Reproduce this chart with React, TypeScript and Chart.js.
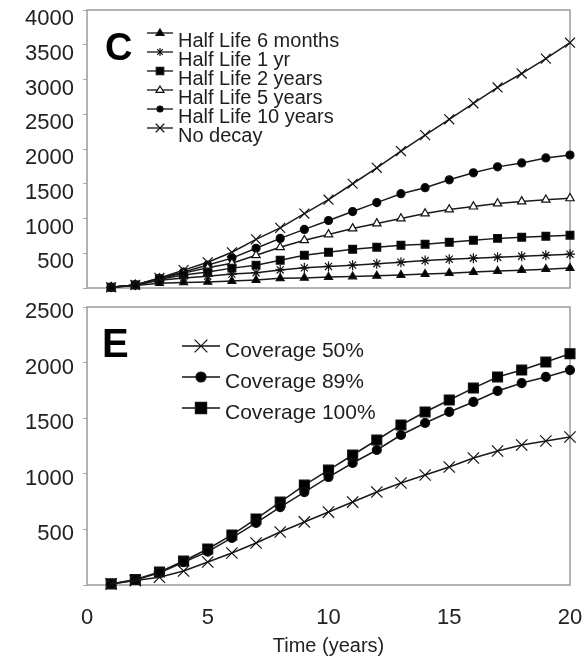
import React, { useEffect, useRef } from "react";
import { Chart, registerables } from "chart.js";

Chart.register(...registerables);

// ---------- data ----------
const years = [1, 2, 3, 4, 5, 6, 7, 8, 9, 10, 11, 12, 13, 14, 15, 16, 17, 18, 19, 20];

const halfLife6m = [8, 35, 70, 80, 88, 100, 115, 140, 145, 157, 165, 175, 186, 200, 214, 229, 243, 257, 271, 286];
const halfLife1y = [10, 40, 110, 143, 170, 200, 220, 260, 290, 310, 329, 350, 371, 395, 414, 429, 443, 457, 471, 486];
const halfLife2y = [10, 42, 125, 186, 229, 286, 329, 400, 471, 514, 557, 586, 614, 629, 657, 686, 714, 730, 745, 760];
const halfLife5y = [10, 45, 135, 214, 290, 357, 471, 586, 686, 771, 857, 929, 1000, 1071, 1129, 1171, 1215, 1245, 1270, 1290];
const halfLife10y = [10, 45, 140, 230, 330, 430, 571, 714, 843, 971, 1100, 1229, 1357, 1443, 1557, 1657, 1743, 1800, 1871, 1914];
const noDecay = [10, 45, 145, 257, 370, 514, 700, 865, 1071, 1271, 1500, 1729, 1971, 2200, 2428, 2657, 2886, 3086, 3300, 3530];

const coverage50 = [10, 40, 70, 126, 207, 288, 378, 477, 567, 656, 746, 836, 917, 989, 1061, 1142, 1205, 1259, 1295, 1331];
const coverage89 = [10, 45, 110, 205, 300, 423, 558, 701, 836, 971, 1097, 1214, 1349, 1457, 1556, 1646, 1745, 1816, 1871, 1933];
const coverage100 = [10, 50, 117, 216, 324, 450, 594, 746, 899, 1034, 1169, 1304, 1439, 1556, 1664, 1771, 1871, 1933, 2005, 2080];

const topLabels = ["Half Life 6 months", "Half Life 1 yr", "Half Life 2 years", "Half Life 5 years", "Half Life 10 years", "No decay"];
const bottomLabels = ["Coverage 50%", "Coverage 89%", "Coverage 100%"];
const xTitle = "Time (years)";
const topPanelLetter = "C";
const bottomPanelLetter = "E";

// ---------- helpers ----------
const FONT = "'Liberation Sans', Arial, sans-serif";
const INK = "#111";

type Mk = { style: string; fill: string; r: number; lr: number };

function drawMarker(ctx: CanvasRenderingContext2D, style: string, x: number, y: number, r: number, fill: string) {
  ctx.save();
  ctx.strokeStyle = INK;
  ctx.fillStyle = fill;
  ctx.lineWidth = 1.2;
  ctx.beginPath();
  if (style === "triangle") {
    ctx.moveTo(x, y - r);
    ctx.lineTo(x + r, y + r * 0.6);
    ctx.lineTo(x - r, y + r * 0.6);
    ctx.closePath();
    ctx.fill();
    ctx.stroke();
  } else if (style === "rect") {
    const s = r * 0.75;
    ctx.rect(x - s, y - s, 2 * s, 2 * s);
    ctx.fill();
    ctx.stroke();
  } else if (style === "circle") {
    ctx.arc(x, y, r, 0, Math.PI * 2);
    ctx.fill();
    ctx.stroke();
  } else if (style === "crossRot") {
    const d = r * 0.707;
    ctx.moveTo(x - d, y - d);
    ctx.lineTo(x + d, y + d);
    ctx.moveTo(x - d, y + d);
    ctx.lineTo(x + d, y - d);
    ctx.stroke();
  } else if (style === "star") {
    const d = r * 0.707;
    ctx.moveTo(x - d, y - d);
    ctx.lineTo(x + d, y + d);
    ctx.moveTo(x - d, y + d);
    ctx.lineTo(x + d, y - d);
    ctx.moveTo(x, y - r);
    ctx.lineTo(x, y + r);
    ctx.stroke();
  }
  ctx.restore();
}

function boxPlugin(id: string) {
  return {
    id,
    beforeDatasetsDraw(chart: any) {
      const { ctx, chartArea } = chart;
      ctx.save();
      ctx.strokeStyle = "#9a9a9a";
      ctx.lineWidth = 1.5;
      ctx.strokeRect(chartArea.left, chartArea.top, chartArea.right - chartArea.left, chartArea.bottom - chartArea.top);
      ctx.restore();
    },
  };
}

function legendPlugin(
  id: string,
  labels: string[],
  markers: Mk[],
  opts: { x0: number; x1: number; tx: number; y0: number; dy: number; font: number; base: number; letter: string; lx: number; ly: number; lfont: number }
) {
  return {
    id,
    afterDraw(chart: any) {
      const ctx: CanvasRenderingContext2D = chart.ctx;
      ctx.save();
      labels.forEach((lab, i) => {
        const y = opts.y0 + i * opts.dy;
        ctx.strokeStyle = INK;
        ctx.lineWidth = 1.3;
        ctx.beginPath();
        ctx.moveTo(opts.x0, y);
        ctx.lineTo(opts.x1, y);
        ctx.stroke();
        const m = markers[i];
        drawMarker(ctx, m.style, (opts.x0 + opts.x1) / 2, y, m.lr, m.fill);
        ctx.fillStyle = "#1e1e1e";
        ctx.font = `${opts.font}px ${FONT}`;
        ctx.textBaseline = "alphabetic";
        ctx.textAlign = "left";
        ctx.fillText(lab, opts.tx, y + opts.base);
      });
      ctx.fillStyle = "#000";
      ctx.font = `bold ${opts.lfont}px 'Liberation Sans Narrow', 'Liberation Sans', Arial, sans-serif`;
      ctx.textBaseline = "alphabetic";
      ctx.textAlign = "left";
      ctx.fillText(opts.letter, opts.lx, opts.ly);
      ctx.restore();
    },
  };
}

function makeDatasets(labels: string[], series: number[][], markers: Mk[]) {
  return series.map((vals, i) => ({
    label: labels[i],
    data: years.map((t, j) => ({ x: t, y: vals[j] })),
    borderColor: "#1a1a1a",
    borderWidth: 1.5,
    pointStyle: markers[i].style,
    pointRadius: markers[i].r,
    pointBackgroundColor: markers[i].fill,
    pointBorderColor: INK,
    pointBorderWidth: 1.2,
    tension: 0,
    clip: false as any,
  }));
}

const noPad = (s: any) => {
  s.paddingLeft = 0;
  s.paddingRight = 0;
  s.paddingTop = 0;
  s.paddingBottom = 0;
};

const topMarkers: Mk[] = [
  { style: "triangle", fill: "#000", r: 4.6, lr: 4 },
  { style: "star", fill: "#000", r: 5, lr: 4 },
  { style: "rect", fill: "#000", r: 5.5, lr: 5 },
  { style: "triangle", fill: "#fff", r: 4.8, lr: 4 },
  { style: "circle", fill: "#000", r: 4, lr: 3 },
  { style: "crossRot", fill: "#000", r: 7, lr: 6 },
];
const bottomMarkers: Mk[] = [
  { style: "crossRot", fill: "#000", r: 8, lr: 9 },
  { style: "circle", fill: "#000", r: 4.5, lr: 5 },
  { style: "rect", fill: "#000", r: 7, lr: 7.5 },
];

export default function App() {
  const topRef = useRef<HTMLCanvasElement>(null);
  const botRef = useRef<HTMLCanvasElement>(null);

  useEffect(() => {
    const tickFont = { family: FONT, size: 22 };
    const topChart = new Chart(topRef.current!, {
      type: "line",
      data: { datasets: makeDatasets(topLabels, [halfLife6m, halfLife1y, halfLife2y, halfLife5y, halfLife10y, noDecay], topMarkers) as any },
      options: {
        responsive: false,
        animation: false,
        layout: { padding: { top: 10, right: 14, bottom: 12, left: 0 } },
        plugins: { legend: { display: false }, tooltip: { enabled: false } },
        scales: {
          x: { type: "linear", min: 0, max: 20, display: false },
          y: {
            min: 0,
            max: 4000,
            ticks: {
              stepSize: 500,
              font: tickFont,
              color: "#222",
              padding: 9,
              labelOffset: 9,
              callback: (v: any) => (v === 0 ? "" : String(v)),
            },
            grid: { drawOnChartArea: false, drawTicks: true, tickLength: 4, color: "#aaa" },
            border: { display: false },
            afterFit: (s: any) => {
              s.width = 87;
              noPad(s);
            },
          },
        },
      },
      plugins: [
        boxPlugin("boxTop"),
        legendPlugin("legTop", topLabels, topMarkers, {
          x0: 147, x1: 173, tx: 178, y0: 33, dy: 19, font: 20, base: 14,
          letter: topPanelLetter, lx: 105, ly: 60, lfont: 38,
        }),
      ],
    });

    const botChart = new Chart(botRef.current!, {
      type: "line",
      data: { datasets: makeDatasets(bottomLabels, [coverage50, coverage89, coverage100], bottomMarkers) as any },
      options: {
        responsive: false,
        animation: false,
        layout: { padding: { top: 12, right: 14, bottom: 0, left: 0 } },
        plugins: { legend: { display: false }, tooltip: { enabled: false } },
        scales: {
          x: {
            type: "linear",
            min: 0,
            max: 20,
            ticks: { stepSize: 5, font: tickFont, color: "#222", padding: 20 },
            grid: { drawOnChartArea: false, drawTicks: false },
            border: { display: false },
            title: { display: true, text: xTitle, font: { family: FONT, size: 20 }, color: "#222", padding: { top: 0, bottom: 9 } },
            afterFit: (s: any) => {
              s.height = 82;
              noPad(s);
            },
          },
          y: {
            min: 0,
            max: 2500,
            ticks: {
              stepSize: 500,
              font: tickFont,
              color: "#222",
              padding: 9,
              labelOffset: 5,
              callback: (v: any) => (v === 0 ? "" : String(v)),
            },
            grid: { drawOnChartArea: false, drawTicks: true, tickLength: 4, color: "#aaa" },
            border: { display: false },
            afterFit: (s: any) => {
              s.width = 87;
              noPad(s);
            },
          },
        },
      },
      plugins: [
        boxPlugin("boxBot"),
        legendPlugin("legBot", bottomLabels, bottomMarkers, {
          x0: 182, x1: 220, tx: 225, y0: 51, dy: 31, font: 21, base: 11,
          letter: bottomPanelLetter, lx: 102, ly: 62, lfont: 40,
        }),
      ],
    });

    return () => {
      topChart.destroy();
      botChart.destroy();
    };
  }, []);

  return (
    <div style={{ position: "fixed", left: 0, top: 0, width: 584, height: 667, background: "#fff" }}>
      <canvas ref={topRef} width={584} height={300} style={{ position: "absolute", left: 0, top: 0, display: "block" }} />
      <canvas ref={botRef} width={584} height={372} style={{ position: "absolute", left: 0, top: 295, display: "block" }} />
    </div>
  );
}
